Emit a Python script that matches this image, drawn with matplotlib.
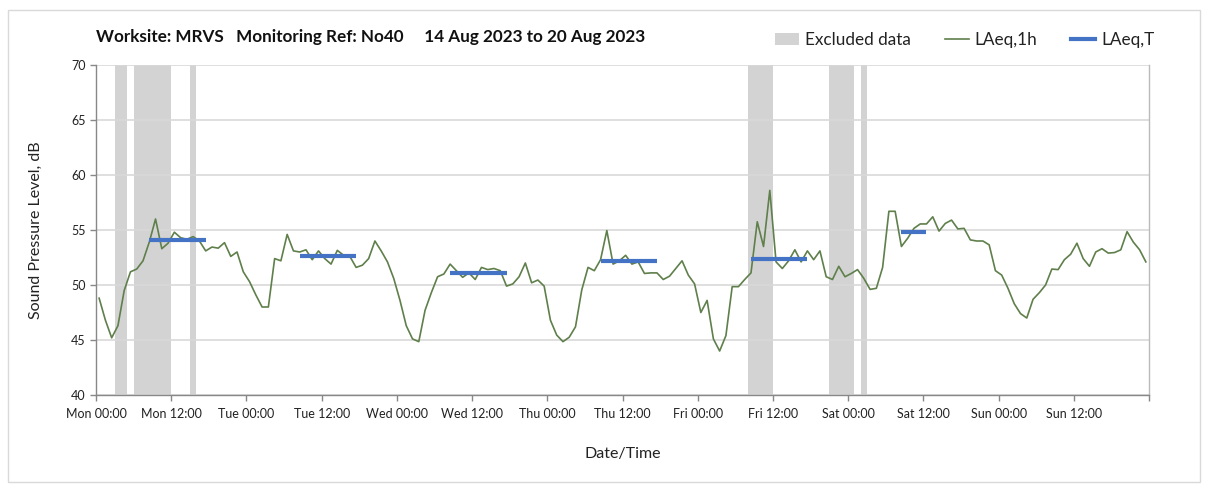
import matplotlib
matplotlib.use("Agg")
import matplotlib.pyplot as plt
from matplotlib.patches import Rectangle, Patch
from matplotlib.lines import Line2D
import numpy as np

plt.rcParams['font.family'] = ['Lato', 'DejaVu Sans']

# Hourly LAeq,1h values (dB), Mon 00:00 -> Sun 23:00
laeq_1h = [
    48.8, 46.8, 45.2, 46.3, 49.5, 51.2, 51.45, 52.2, 53.9, 56.0, 53.3, 53.8,
    54.8, 54.3, 54.15, 54.4, 54.0, 53.1, 53.45, 53.35, 53.85, 52.6, 53.0, 51.2,
    50.3, 49.1, 48.0, 48.0, 52.4, 52.2, 54.6, 53.1, 53.0, 53.2, 52.3, 53.1,
    52.4, 51.9, 53.15, 52.7, 52.6, 51.6, 51.8, 52.4, 54.0, 53.1, 52.1, 50.6,
    48.6, 46.3, 45.1, 44.85, 47.7, 49.3, 50.75, 51.0, 51.9, 51.3, 50.7, 51.1,
    50.5, 51.6, 51.4, 51.5, 51.3, 49.9, 50.1, 50.75, 52.0, 50.2, 50.45, 49.9,
    46.8, 45.45, 44.85, 45.25, 46.2, 49.55, 51.6, 51.3, 52.3, 54.95, 51.9, 52.2,
    52.7, 51.9, 52.1, 51.05, 51.1, 51.1, 50.5, 50.8, 51.5, 52.2, 50.9, 50.1,
    47.5, 48.6, 45.1, 44.0, 45.4, 49.85, 49.85, 50.5, 51.1, 55.75, 53.5, 58.6,
    52.1, 51.5, 52.2, 53.2, 52.1, 53.1, 52.3, 53.1, 50.75, 50.5, 51.7, 50.75,
    51.05, 51.4, 50.6, 49.6, 49.7, 51.6, 56.7, 56.7, 53.5, 54.25, 55.15, 55.55,
    55.55, 56.2, 54.9, 55.6, 55.9, 55.1, 55.15, 54.1, 54.0, 54.0, 53.65, 51.3,
    50.9, 49.7, 48.3, 47.4, 47.0, 48.7, 49.3, 50.0, 51.45, 51.4, 52.3, 52.8,
    53.8, 52.4, 51.7, 53.0, 53.3, 52.9, 52.95, 53.2, 54.85, 53.9, 53.2, 52.1,
]

# LAeq,T periods: (first hour, last hour) and level
laeqT_start = [8, 32, 56, 80, 104, 128]
laeqT_end = [17, 41, 65, 89, 113, 132]
laeqT_value = [54.1, 52.6, 51.1, 52.2, 52.35, 54.85]

# Excluded data periods (hours from Mon 00:00)
excl_start = [3, 6, 15, 104, 117, 122]
excl_end = [5, 12, 16, 108, 121, 123]

tick_labels = ['Mon 00:00', 'Mon 12:00', 'Tue 00:00', 'Tue 12:00', 'Wed 00:00',
               'Wed 12:00', 'Thu 00:00', 'Thu 12:00', 'Fri 00:00', 'Fri 12:00',
               'Sat 00:00', 'Sat 12:00', 'Sun 00:00', 'Sun 12:00', '']

green = '#5F7F4B'
blue = '#4472C4'
band = '#D3D3D3'
gridc = '#D9D9D9'

fig = plt.figure(figsize=(12.08, 4.9), dpi=100)
ax = fig.add_axes([96/1208, 1-395/490, (1149-96)/1208, (395-65)/490])

# outer border
fig.patches.append(Rectangle((8/1208, 8/490), 1-16/1208, 1-18/490, transform=fig.transFigure,
                             fill=False, edgecolor='#D9D9D9', linewidth=1.0))

for s, e in zip(excl_start, excl_end):
    ax.axvspan(s, e, color=band, lw=0, zorder=0.2)

x = np.arange(len(laeq_1h)) + 0.5
ax.plot(x, laeq_1h, color=green, lw=1.2, zorder=3)

for s, e, v in zip(laeqT_start, laeqT_end, laeqT_value):
    ax.plot([s + 0.5, e + 0.5], [v, v], color=blue, lw=3, zorder=4, solid_capstyle='butt')

ax.set_xlim(0, 168)
ax.set_ylim(40, 70)
ax.set_xticks(np.arange(0, 169, 12))
ax.set_xticklabels(tick_labels)
ax.set_yticks(np.arange(40, 71, 5))
ax.set_xticks(np.arange(0, 169, 24), minor=True)

ax.set_axisbelow(True)
ax.grid(False)
ax.yaxis.grid(True, color=gridc, lw=1.2, zorder=0.5)
ax.xaxis.grid(True, which='minor', color=gridc, lw=1.2, zorder=0.5)
ax.tick_params(axis='x', which='minor', length=0)
ax.tick_params(axis='both', which='major', labelsize=9, color='#888888', length=4,
               width=1, labelcolor='#222222', direction='out')
ax.tick_params(axis='x', which='major', pad=5)

for sp in ['left', 'bottom']:
    ax.spines[sp].set_color('#888888')
    ax.spines[sp].set_linewidth(1.0)
ax.spines['right'].set_color('#BBBBBB')
ax.spines['right'].set_linewidth(1.0)
ax.spines['top'].set_visible(False)

ax.set_ylabel('Sound Pressure Level, dB', fontsize=11.5, color='#222222', labelpad=20)
ax.set_xlabel('Date/Time', fontsize=11.5, color='#222222', labelpad=20)

fig.text(96/1208, 1-37/490, 'Worksite: MRVS   Monitoring Ref: No40     14 Aug 2023 to 20 Aug 2023',
         fontsize=12.3, fontweight='bold', color='#111111', va='center', ha='left')

handles = [Patch(facecolor=band, edgecolor='none'),
           Line2D([0], [0], color=green, lw=1.2),
           Line2D([0], [0], color=blue, lw=3)]
fig.legend(handles, ['Excluded data', 'LAeq,1h', 'LAeq,T'], loc='center right',
           bbox_to_anchor=(1170/1208, 1-40/490), ncol=3, frameon=False, fontsize=12.3,
           handlelength=1.4, columnspacing=2.0, handletextpad=0.35, labelcolor='#222222')

fig.savefig('out.png', dpi=100, facecolor='white')
